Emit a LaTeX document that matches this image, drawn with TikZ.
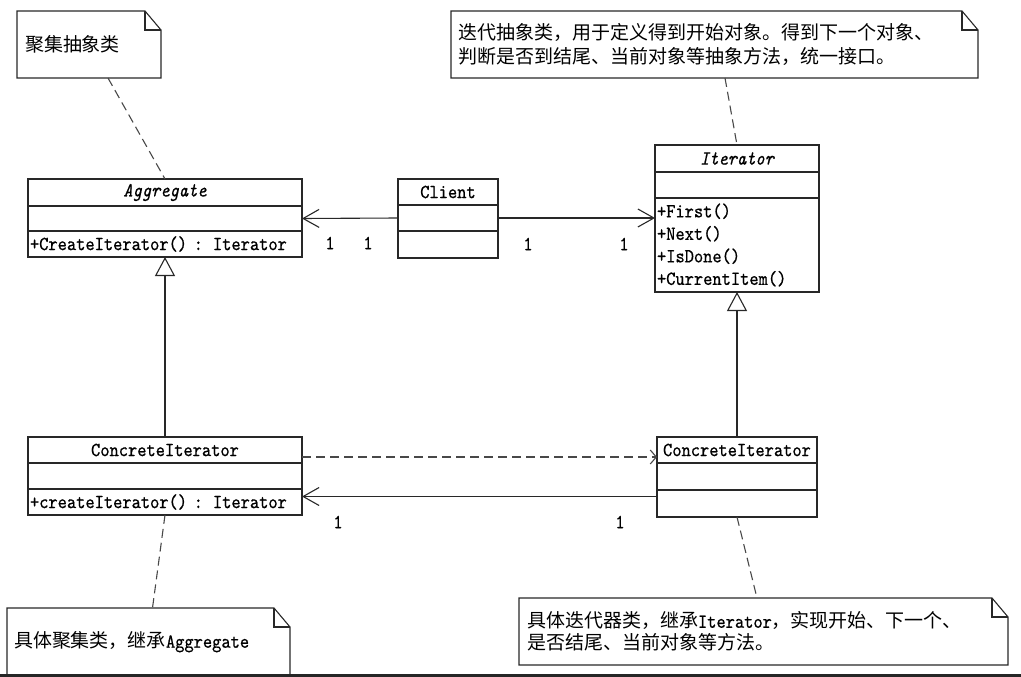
\documentclass[tikz,border=0pt]{standalone}
\usepackage{fontspec}
\newfontfamily\cjk{Noto Sans CJK SC}
\newfontfamily\umlfam{lmmono10-regular.otf}[FakeStretch=0.88, FakeBold=0.6, ItalicFont=lmmono10-italic.otf]
\usetikzlibrary{positioning,arrows.meta}
\definecolor{linecol}{RGB}{40,40,40}
\newcommand\umltt{\umlfam\fontsize{20pt}{22.5pt}\selectfont}
\newcommand\notefont{\cjk\fontsize{19pt}{24pt}\selectfont}
\newcommand\notefold[1]{%
  \draw[notefrm] (#1.south west) -- (#1.north west) -- ([xshift=-16pt]#1.north east)
    -- ([yshift=-19pt]#1.north east) -- (#1.south east) -- cycle;
  \draw[notefrm] ([xshift=-16pt]#1.north east) |- ([yshift=-19pt]#1.north east);}
\tikzset{
  classpart/.style={draw=linecol, line width=1.1pt, inner xsep=2pt, inner ysep=0pt,
    outer sep=0pt, minimum height=26pt, font=\umltt},
  methods/.style={classpart, align=left, text width=#1},
  note/.style={inner xsep=7pt, inner ysep=0pt, outer sep=0pt, align=left, font=\notefont},
  notefrm/.style={draw=linecol, line width=1.1pt},
  notelink/.style={draw=linecol!85, line width=1.1pt, dash pattern=on 9pt off 5pt},
  assoc/.style={draw=linecol, line width=1.1pt, -{Straight Barb[length=16pt,width=18pt]}},
  depend/.style={draw=linecol!85, line width=1.1pt, dash pattern=on 9pt off 5pt,
    -{Straight Barb[length=6pt,width=14pt]}},
  inherit/.style={draw=linecol, line width=1.1pt, -{Triangle[open,length=19pt,width=20pt,fill=white]}},
  mult/.style={font=\umltt, inner sep=0pt}
}
\begin{document}
\begin{tikzpicture}[x=1pt,y=-1pt]
  \useasboundingbox (0,0) rectangle (1021,677);

  \node[classpart, minimum width=274pt, minimum height=27pt] (agg) at (165,192.5) {\itshape Aggregate};
  \node[classpart, minimum width=274pt, minimum height=25pt, below=0pt of agg] (aggA) {};
  \node[methods=270pt, below=0pt of aggA] (aggM) {+CreateIterator() : Iterator};

  \node[classpart, minimum width=100pt] (cli) at (448,192) {Client};
  \node[classpart, minimum width=100pt, below=0pt of cli] (cliA) {};
  \node[classpart, minimum width=100pt, minimum height=27pt, below=0pt of cliA] (cliM) {};

  \node[classpart, minimum width=164pt, minimum height=27pt] (iter) at (737,158.5) {\itshape Iterator};
  \node[classpart, minimum width=164pt, below=0pt of iter] (iterA) {};
  \node[methods=160pt, minimum height=94pt, below=0pt of iterA] (iterM)
    {+First()\\+Next()\\+IsDone()\\+CurrentItem()};

  \node[classpart, minimum width=274pt] (cagg) at (165,450) {ConcreteIterator};
  \node[classpart, minimum width=274pt, below=0pt of cagg] (caggA) {};
  \node[methods=270pt, below=0pt of caggA] (caggM) {+createIterator() : Iterator};

  \node[classpart, minimum width=160pt] (cit) at (737,450) {ConcreteIterator};
  \node[classpart, minimum width=160pt, minimum height=27pt, below=0pt of cit] (citA) {};
  \node[classpart, minimum width=160pt, minimum height=27pt, below=0pt of citA] (citM) {};

  \node[note, text width=128pt, inner xsep=8pt, minimum height=67pt] (n1) at (89,44.5) {聚集抽象类};
  \node[note, text width=513pt, minimum height=67pt] (n2) at (714.5,44.5)
    {迭代抽象类，用于定义得到开始对象。得到下一个对象、\\判断是否到结尾、当前对象等抽象方法，统一接口。};
  \node[note, text width=269pt, minimum height=68pt] (n3) at (148.5,642)
    {具体聚集类，继承{\umltt Aggregate}};
  \node[note, text width=473pt, inner xsep=8pt, minimum height=67pt, font=\cjk\fontsize{19pt}{22pt}\selectfont] (n4) at (763.5,631.5)
    {具体迭代器类，继承{\umltt Iterator}，实现开始、下一个、\\是否结尾、当前对象等方法。};
  \notefold{n1}
  \notefold{n2}
  \notefold{n3}
  \notefold{n4}

  \draw[notelink] ([xshift=19pt]n1.south) -- (agg.north);
  \draw[notelink] ([xshift=10.5pt]n2.south) -- (iter.north);
  \draw[notelink] (caggM.south) -- ([xshift=4pt]n3.north);
  \draw[notelink] (citM.south) -- ([xshift=-6.5pt]n4.north);

  \draw[assoc] (cliA.west) -- (aggA.east);
  \draw[assoc] (cliA.east) -- (cliA.east -| iterM.west);
  \draw[inherit] (cagg.north) -- (aggM.south);
  \draw[inherit] (cit.north) -- (iterM.south);
  \draw[depend] ([yshift=-7pt]cagg.east) -- ([yshift=-7pt]cagg.east -| cit.west);
  \draw[assoc] ([yshift=7pt]citM.west) -- ([yshift=7pt]citM.west -| caggM.east);

  \node[mult] (m1) at (330,243) {1};
  \node[mult] (m2) at (368,243) {1};
  \node[mult] (m3) at (528,244) {1};
  \node[mult] (m4) at (624,244) {1};
  \node[mult] (m5) at (338,522) {1};
  \node[mult] (m6) at (620,522) {1};

  \fill[black!85] (0,674) rectangle (1021,677);
\end{tikzpicture}
\end{document}
